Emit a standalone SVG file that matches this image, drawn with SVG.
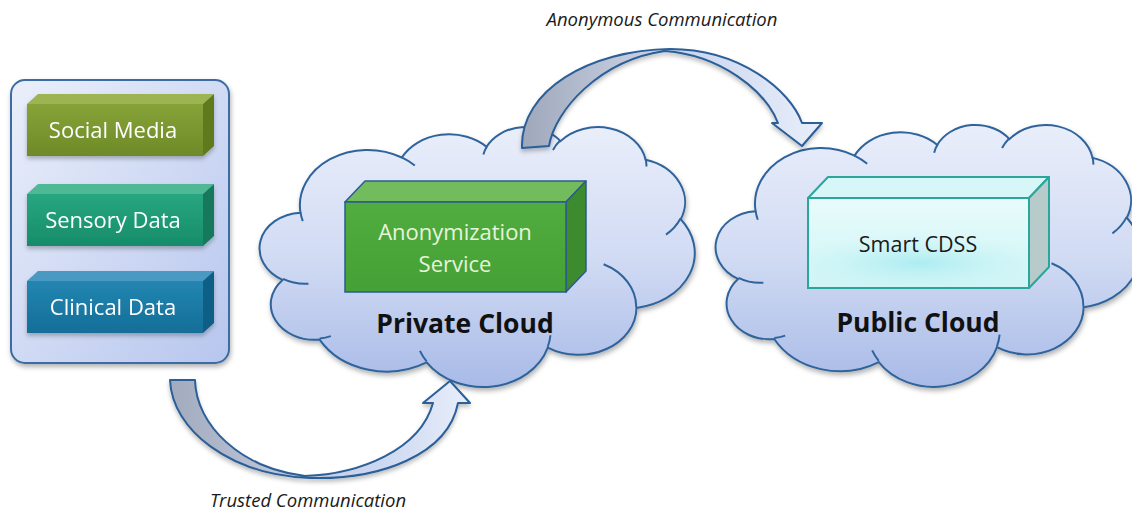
<svg xmlns="http://www.w3.org/2000/svg" width="1132" height="511" viewBox="0 0 1132 511">
<defs>
<style>
.lbl{font-family:"Open Sans","Noto Sans","DejaVu Sans",sans-serif;text-anchor:middle}
.boxtxt{font-size:22px;fill:#ffffff}
.title{font-size:26.5px;font-weight:bold;fill:#111111}
.conn{font-size:18.5px;font-style:italic;fill:#1a1a1a}
.arrow{stroke:#2b5e97;stroke-width:2;stroke-linejoin:round}
</style>
<linearGradient id="cloudFill" x1="0" y1="0" x2="0" y2="1">
<stop offset="0" stop-color="#e9eefa"/>
<stop offset="0.5" stop-color="#d1dbf3"/>
<stop offset="1" stop-color="#a8bae7"/>
</linearGradient>
<linearGradient id="containerFill" x1="0" y1="0" x2="1" y2="1">
<stop offset="0" stop-color="#eaeffa"/>
<stop offset="1" stop-color="#b7c6ee"/>
</linearGradient>
<linearGradient id="anonFill" gradientUnits="userSpaceOnUse" x1="520" y1="0" x2="822" y2="0">
<stop offset="0" stop-color="#9ea7ba"/>
<stop offset="0.35" stop-color="#c2cadc"/>
<stop offset="0.55" stop-color="#cbd6ef"/>
<stop offset="1" stop-color="#e8eefa"/>
</linearGradient>
<linearGradient id="trustFill" gradientUnits="userSpaceOnUse" x1="170" y1="0" x2="470" y2="0">
<stop offset="0" stop-color="#a2aabd"/>
<stop offset="0.45" stop-color="#c4cce0"/>
<stop offset="0.7" stop-color="#ccd8f1"/>
<stop offset="1" stop-color="#e8eefa"/>
</linearGradient>
<linearGradient id="smFront" x1="0" y1="0" x2="0" y2="1"><stop offset="0" stop-color="#86a338"/><stop offset="1" stop-color="#6e8a28"/></linearGradient>
<linearGradient id="sdFront" x1="0" y1="0" x2="0" y2="1"><stop offset="0" stop-color="#27a77f"/><stop offset="1" stop-color="#178c6a"/></linearGradient>
<linearGradient id="cdFront" x1="0" y1="0" x2="0" y2="1"><stop offset="0" stop-color="#2286b2"/><stop offset="1" stop-color="#146e98"/></linearGradient>
<linearGradient id="anFront" x1="0" y1="0" x2="0" y2="1"><stop offset="0" stop-color="#52ad40"/><stop offset="1" stop-color="#45a035"/></linearGradient>
<linearGradient id="scFront" x1="0" y1="0" x2="0" y2="1"><stop offset="0" stop-color="#e8fbfb"/><stop offset="1" stop-color="#d0f5f6"/></linearGradient>
<radialGradient id="scGlow" cx="0.5" cy="0.72" r="0.6" gradientTransform="translate(0.5 0.72) scale(1 0.55) translate(-0.5 -0.72)">
<stop offset="0" stop-color="#a4ebf0" stop-opacity="0.85"/>
<stop offset="1" stop-color="#c8f3f5" stop-opacity="0"/>
</radialGradient>
<filter id="shadow" x="-10%" y="-10%" width="125%" height="130%">
<feDropShadow dx="1" dy="3" stdDeviation="2.5" flood-color="#000000" flood-opacity="0.3"/>
</filter>
<filter id="softShadow" x="-10%" y="-20%" width="125%" height="150%">
<feDropShadow dx="0" dy="3" stdDeviation="2" flood-color="#000000" flood-opacity="0.25"/>
</filter>
<path id="cloudShape" fill="url(#cloudFill)" stroke="#2f639c" stroke-width="2" vector-effect="non-scaling-stroke" d="M3900 14370 A6753 9190 0 0 1 14005 5202 A5333 7267 0 0 1 22457 3432 A4365 5945 0 0 1 29834 2481 A4857 6595 0 0 1 38318 5577 A5333 7273 0 0 1 41819 15460 A6775 9220 0 0 1 37405 30204 A5785 7867 0 0 1 28556 36814 A6752 9215 0 0 1 16481 39266 A7720 10543 0 0 1 5805 35471 A4360 5918 0 0 1 2113 25549 A4345 5945 0 0 1 3900 14370 Z"/>
<path id="cloudTicks" fill="none" stroke="#2f639c" stroke-width="2" vector-effect="non-scaling-stroke" d="M4693 26177 A4345 5945 0 0 1 2160 25380 M6928 34899 A4360 5918 0 0 1 5820 35280 M16478 39090 A6752 9215 0 0 1 15810 37348 M28827 34751 A6752 9215 0 0 1 28560 36660 M34129 22954 A5785 7867 0 0 1 37380 30090 M41798 15354 A5333 7273 0 0 1 40350 18030 M38324 5426 A4857 6595 0 0 1 38400 6690 M29078 3952 A4857 6595 0 0 1 29820 2340 M22141 4720 A4365 5945 0 0 1 22500 3330 M14000 5192 A6753 9190 0 0 1 15301 6541 M4127 15789 A6753 9190 0 0 1 3900 14370"/>
</defs>

<rect width="1132" height="511" fill="#ffffff"/>

<g id="data-sources">
<rect x="11" y="80" width="218" height="283" rx="14" fill="url(#containerFill)" stroke="#3b6ca3" stroke-width="2" filter="url(#shadow)"/>
</g>

<g id="social-media" filter="url(#softShadow)">
<polygon points="27,104 38,94 214,94 203,104" fill="#9db452"/>
<polygon points="203,104 214,94 214,146 203,156" fill="#5f7a1f"/>
<rect x="27" y="104" width="176" height="52" fill="url(#smFront)"/>
<text class="lbl boxtxt" x="113" y="138">Social Media</text>
</g>

<g id="sensory-data" filter="url(#softShadow)">
<polygon points="27,194 38,184 214,184 203,194" fill="#4fb995"/>
<polygon points="203,194 214,184 214,236 203,246" fill="#14795c"/>
<rect x="27" y="194" width="176" height="52" fill="url(#sdFront)"/>
<text class="lbl boxtxt" x="113" y="228">Sensory Data</text>
</g>

<g id="clinical-data" filter="url(#softShadow)">
<polygon points="27,281 38,271 214,271 203,281" fill="#4899c2"/>
<polygon points="203,281 214,271 214,323 203,333" fill="#115e86"/>
<rect x="27" y="281" width="176" height="52" fill="url(#cdFront)"/>
<text class="lbl boxtxt" x="113" y="315">Clinical Data</text>
</g>

<g id="private-cloud">
<g filter="url(#shadow)">
<use href="#cloudShape" transform="translate(261.4 126.2) scale(0.010027 0.006016)"/>
</g>
<use href="#cloudTicks" transform="translate(261.4 126.2) scale(0.010027 0.006016)"/>
<text class="lbl title" x="465" y="333">Private Cloud</text>
</g>

<g id="anonymization-service">
<polygon points="345,202 365,181 586,181 566,202" fill="#72bc5d" stroke="#2d5b8c" stroke-width="1.5" stroke-linejoin="round"/>
<polygon points="566,202 586,181 586,271 566,292" fill="#3c8b2e" stroke="#2d5b8c" stroke-width="1.5" stroke-linejoin="round"/>
<rect x="345" y="202" width="221" height="90" fill="url(#anFront)" stroke="#2d5b8c" stroke-width="1.5"/>
<text class="lbl" x="455" y="240" font-size="22" fill="#e6f4dc">Anonymization</text>
<text class="lbl" x="455" y="272" font-size="22" fill="#e6f4dc">Service</text>
</g>

<g id="public-cloud">
<g filter="url(#shadow)">
<use href="#cloudShape" transform="translate(717.4 124.1) scale(0.00979 0.00606)"/>
</g>
<use href="#cloudTicks" transform="translate(717.4 124.1) scale(0.00979 0.00606)"/>
<text class="lbl title" x="918" y="332">Public Cloud</text>
</g>

<g id="smart-cdss">
<polygon points="808,198 828,177 1049,177 1029,198" fill="#d6f6f7" stroke="#2aa69b" stroke-width="2" stroke-linejoin="round"/>
<polygon points="1029,198 1049,177 1049,267 1029,288" fill="#b6cbca" stroke="#2aa69b" stroke-width="2" stroke-linejoin="round"/>
<rect x="808" y="198" width="221" height="90" fill="url(#scFront)"/>
<rect x="808" y="198" width="221" height="90" fill="url(#scGlow)" stroke="#2aa69b" stroke-width="2"/>
<text class="lbl" x="918" y="252" font-size="21.5" fill="#1a1a1a">Smart CDSS</text>
</g>

<g id="connectors">
<g filter="url(#softShadow)">
<path class="arrow" fill="url(#anonFill)" d="M522 148 C520 90 590 50 670 49 C740 49 790 90 802 123 L822 123 L802 146 L772 123 L778 123 C765 90 720 55 665 51 C600 60 555 110 549 146 Z"/>
<path class="arrow" fill="url(#trustFill)" d="M170 380 L195 380 C196 425 240 468 305 476 C360 474 420 450 433 403 L423 403 L450 381 L470 403 L458 403 C448 455 380 480 310 478 C230 475 172 430 170 380 Z"/>
</g>
<text class="lbl conn" x="662" y="26">Anonymous Communication</text>
<text class="lbl conn" x="308" y="507">Trusted Communication</text>
</g>
</svg>
